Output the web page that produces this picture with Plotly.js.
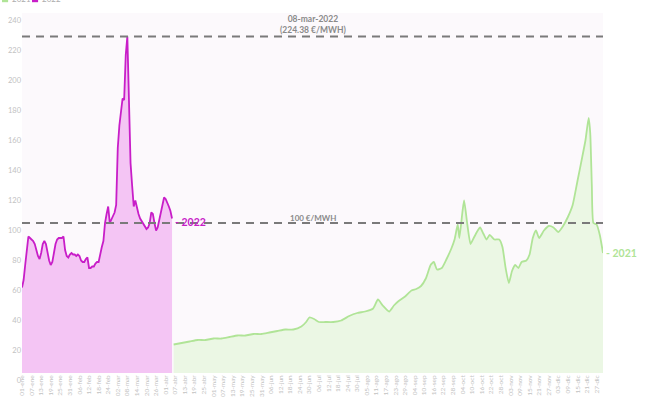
<!DOCTYPE html>
<html>
<head>
<meta charset="utf-8">
<script src="https://cdn.plot.ly/plotly-3.0.1.min.js"></script>
<style>html,body{margin:0;padding:0;background:#fff;}#chart{width:648px;height:405px;}</style>
</head>
<body>
<div id="chart"></div>
<script>
// Category labels (day of year, Spanish months)
var monthNames = ['ene','feb','mar','abr','may','jun','jul','ago','sep','oct','nov','dic'];
var monthDays = [31,28,31,30,31,30,31,31,30,31,30,31];
var dayLabels = [];
monthNames.forEach(function(m, i){
  for (var d = 1; d <= monthDays[i]; d++) dayLabels.push((d < 10 ? '0' : '') + d + '-' + m);
});

// 2022 series: day index 0..94, €/MWh
var days2022 = [];
for (var i = 0; i <= 94; i++) days2022.push(i);
var price2022 = [
  57,62,72,84,91,90,89,88,86,82,
  78,76,80,86,88,86,80,75,72,74,
  80,86,89,90,90,90,91,82,78,77,
  79,80,79,79,78,79,78,75,74,74,
  76,77,70,70,71,71,73,74,74,80,
  84,88,100,106,111,100,102,104,107,112,
  150,165,175,183,182,212,224.38,190,140,125,
  111,115,110,106,103,101,99,97,96,97,
  100,107,106,100,95,97,102,108,113,117,
  116,114,111,108,103
];

// 2021 series: day index and €/MWh
var days2021 = [95,100,105,110,115,120,125,130,135,140,145,150,155,160,165,170,175,178,180,183,
  186,190,195,200,205,210,215,220,223,226,230,233,236,240,244,247,250,253,256,258,
  260,263,266,269,271,273,274,276,277,279,281,283,285,287,289,291,293,296,299,301,
  303,305,307,309,311,313,316,318,320,322,324,327,330,333,336,339,342,345,348,351,
  353,355,356,357,358,360,362,364];
var price2021 = [19,20,21,22,22,23,23,24,25,25,26,26,27,28,29,29,31,34,37,36,
  34,34,34,35,38,40,41,43,49,45,41,45,48,51,55,56,58,63,72,74,
  69,70,76,83,89,99,90,108,115,99,86,90,94,97,93,89,92,89,89,84,
  70,60,68,72,70,74,75,79,90,95,90,95,98,97,94,98,104,112,128,144,
  155,170,160,125,100,99,92,80];

var yTicks = [0,20,40,60,80,100,120,140,160,180,200,220,240];
var peakValue = 224.38;
var peakLabel = '08-mar-2022';
var refValue = 100;
var seriesNames = ['2021', '2022'];
var seriesColors = ['#b0e497', '#c81ec8'];

var tickVals = [];
var tickText = [];
for (var t = 0; t < dayLabels.length; t += 6) { tickVals.push(t); tickText.push(dayLabels[t]); }

var traces = [
  {
    x: days2021, y: price2021, name: seriesNames[0], type: 'scatter', mode: 'lines',
    line: {color: seriesColors[0], width: 1.8, shape: 'spline', smoothing: 0.5},
    fill: 'tozeroy', fillcolor: '#ebf7e4'
  },
  {
    x: days2022, y: price2022, name: seriesNames[1], type: 'scatter', mode: 'lines',
    line: {color: seriesColors[1], width: 1.8},
    fill: 'tozeroy', fillcolor: '#f4c5f4'
  }
];

// custom compact legend (small squares at the top-left)
var legendShapes = [];
var legendAnns = [];
var legX = [-0.0344, 0.0172];
seriesNames.forEach(function(n, k){
  legendShapes.push({type: 'rect', xref: 'paper', yref: 'paper',
    x0: legX[k], x1: legX[k] + 0.0105, y0: 1.030, y1: 1.047,
    line: {width: 0}, fillcolor: seriesColors[k]});
  legendAnns.push({xref: 'paper', yref: 'paper', x: legX[k] + 0.0135, y: 1.0385,
    xanchor: 'left', yanchor: 'middle', text: n, showarrow: false,
    font: {size: 8, color: '#aaaaaa'}});
});

var layout = {
  width: 648, height: 405,
  margin: {l: 22, r: 45, t: 13, b: 32, autoexpand: false},
  paper_bgcolor: '#ffffff',
  plot_bgcolor: '#fcf9fc',
  font: {family: 'Lato, "Open Sans", sans-serif', color: '#bbbbbb'},
  showlegend: false,
  hovermode: false,
  xaxis: {
    range: [0, 364], showgrid: false, zeroline: false, showline: false,
    tickmode: 'array', tickvals: tickVals, ticktext: tickText, tickangle: -90,
    tickfont: {size: 6.5, color: '#c2c2c2'}, ticks: ''
  },
  yaxis: {
    range: [0, 240], showgrid: false, zeroline: false, showline: false,
    tickmode: 'array', tickvals: yTicks, ticks: '',
    tickfont: {size: 7.5, color: '#c2c2c2'}, ticklabelshift: 7
  },
  shapes: [
    {type: 'line', xref: 'x domain', x0: 0, x1: 1, yref: 'y', y0: peakValue, y1: peakValue,
     line: {color: '#7a7a7a', width: 2, dash: '8px,6px'}},
    {type: 'line', xref: 'x domain', x0: 0, x1: 1, yref: 'y', y0: refValue, y1: refValue,
     line: {color: '#7a7a7a', width: 2, dash: '8px,6px'}}
  ].concat(legendShapes),
  annotations: [
    {xref: 'paper', x: 0.5, yref: 'y', y: peakValue, yanchor: 'bottom', yshift: -1,
     text: '<b>' + peakLabel + '<br>(' + peakValue + ' €/MWH)</b>', showarrow: false,
     font: {size: 8.5, color: '#8a8a8a'}},
    {xref: 'paper', x: 0.5, yref: 'y', y: refValue, yanchor: 'bottom', yshift: -2,
     text: '<b>' + refValue + ' €/MWH</b>', showarrow: false,
     font: {size: 8, color: '#8a8a8a'}},
    {x: days2022[days2022.length - 1], y: price2022[price2022.length - 1] - 2, xanchor: 'left', yanchor: 'middle', xshift: 1,
     text: '<b>- ' + seriesNames[1] + '</b>', showarrow: false, font: {size: 10.5, color: seriesColors[1]}},
    {x: days2021[days2021.length - 1], y: price2021[price2021.length - 1], xanchor: 'left', yanchor: 'middle', xshift: 1,
     text: '<b>- ' + seriesNames[0] + '</b>', showarrow: false, font: {size: 10.5, color: seriesColors[0]}}
  ].concat(legendAnns)
};

Plotly.newPlot('chart', traces, layout, {displayModeBar: false, staticPlot: true});
</script>
</body>
</html>
